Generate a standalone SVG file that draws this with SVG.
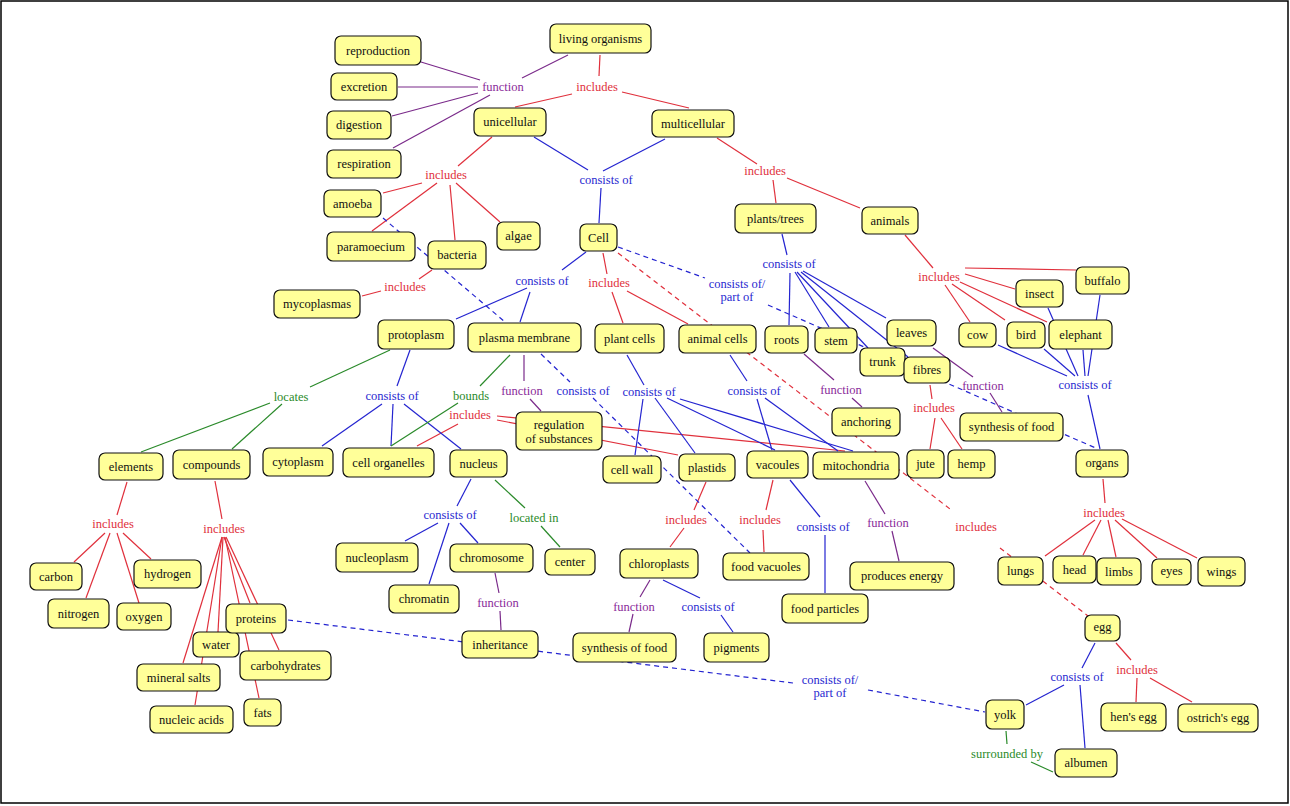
<svg xmlns="http://www.w3.org/2000/svg" width="1290" height="806" viewBox="0 0 1290 806">
<style>
.n rect{fill:#ffff99;stroke:#111;stroke-width:1.2}
.n text{font-family:"Liberation Serif","Times New Roman",serif;font-size:12.5px;fill:#111;text-anchor:middle}
.l{font-family:"Liberation Serif","Times New Roman",serif;font-size:12.5px;text-anchor:middle}
.pl{fill:#8a2a9a}.rl{fill:#e0303c}.bl{fill:#2828d0}.gl{fill:#2a8a2a}
.p line{stroke:#7a2a8a;stroke-width:1.2}
.r line{stroke:#e0303c;stroke-width:1.2}
.b line{stroke:#2424d0;stroke-width:1.2}
.g line{stroke:#2a8a2a;stroke-width:1.2}
.d line{stroke-dasharray:5,4}
</style>
<rect x="1" y="1" width="1287" height="802" fill="#fff" stroke="#000" stroke-width="1.5"/>
<g id="connectors">
<g class="p">
<line x1="568" y1="55" x2="522" y2="78"/>
<line x1="480" y1="80" x2="421" y2="62"/>
<line x1="478" y1="87" x2="398" y2="87"/>
<line x1="478" y1="93" x2="392" y2="116"/>
<line x1="490" y1="95" x2="393" y2="148"/>
<line x1="524" y1="355" x2="524" y2="381"/>
<line x1="530" y1="399" x2="541" y2="411"/>
<line x1="804" y1="354" x2="834" y2="380"/>
<line x1="852" y1="398" x2="862" y2="407"/>
<line x1="933" y1="348" x2="973" y2="377"/>
<line x1="990" y1="393" x2="1002" y2="412"/>
<line x1="495" y1="573" x2="499" y2="593"/>
<line x1="500" y1="611" x2="501" y2="630"/>
<line x1="865" y1="481" x2="885" y2="514"/>
<line x1="892" y1="531" x2="899" y2="561"/>
<line x1="650" y1="580" x2="640" y2="597"/>
<line x1="633" y1="614" x2="629" y2="632"/>
</g>
<g class="r">
<line x1="600" y1="55" x2="599" y2="76"/>
<line x1="572" y1="94" x2="515" y2="107"/>
<line x1="622" y1="92" x2="689" y2="108"/>
<line x1="492" y1="137" x2="458" y2="166"/>
<line x1="422" y1="183" x2="383" y2="193"/>
<line x1="437" y1="183" x2="372" y2="231"/>
<line x1="450" y1="185" x2="455" y2="240"/>
<line x1="456" y1="183" x2="500" y2="222"/>
<line x1="717" y1="138" x2="757" y2="164"/>
<line x1="773" y1="180" x2="776" y2="203"/>
<line x1="787" y1="178" x2="860" y2="208"/>
<line x1="432" y1="270" x2="419" y2="279"/>
<line x1="381" y1="291" x2="362" y2="296"/>
<line x1="603" y1="253" x2="607" y2="274"/>
<line x1="612" y1="292" x2="623" y2="323"/>
<line x1="627" y1="291" x2="688" y2="324"/>
<line x1="905" y1="235" x2="933" y2="268"/>
<line x1="965" y1="268" x2="1076" y2="270"/>
<line x1="965" y1="274" x2="1015" y2="289"/>
<line x1="945" y1="285" x2="970" y2="322"/>
<line x1="952" y1="284" x2="1005" y2="320"/>
<line x1="960" y1="282" x2="1047" y2="322"/>
<line x1="930" y1="385" x2="932" y2="399"/>
<line x1="935" y1="418" x2="930" y2="449"/>
<line x1="941" y1="418" x2="962" y2="449"/>
<line x1="417" y1="446" x2="458" y2="424"/>
<line x1="497" y1="416" x2="845" y2="451"/>
<line x1="497" y1="420" x2="678" y2="455"/>
<line x1="127" y1="482" x2="117" y2="515"/>
<line x1="105" y1="533" x2="74" y2="562"/>
<line x1="110" y1="533" x2="86" y2="598"/>
<line x1="117" y1="533" x2="139" y2="603"/>
<line x1="123" y1="533" x2="151" y2="559"/>
<line x1="215" y1="481" x2="222" y2="519"/>
<line x1="222" y1="537" x2="183" y2="663"/>
<line x1="222" y1="537" x2="195" y2="705"/>
<line x1="223" y1="537" x2="218" y2="632"/>
<line x1="224" y1="537" x2="250" y2="603"/>
<line x1="225" y1="537" x2="259" y2="698"/>
<line x1="226" y1="537" x2="279" y2="650"/>
<line x1="706" y1="482" x2="694" y2="510"/>
<line x1="684" y1="528" x2="670" y2="547"/>
<line x1="773" y1="480" x2="766" y2="510"/>
<line x1="763" y1="530" x2="764" y2="552"/>
<line x1="1103" y1="479" x2="1105" y2="503"/>
<line x1="1095" y1="520" x2="1045" y2="556"/>
<line x1="1101" y1="520" x2="1083" y2="555"/>
<line x1="1108" y1="520" x2="1116" y2="557"/>
<line x1="1115" y1="520" x2="1157" y2="558"/>
<line x1="1122" y1="519" x2="1197" y2="558"/>
<line x1="1116" y1="643" x2="1131" y2="660"/>
<line x1="1137" y1="678" x2="1136" y2="702"/>
<line x1="1150" y1="678" x2="1192" y2="702"/>
</g>
<g class="r d">
<line x1="618" y1="253" x2="950" y2="509"/>
<line x1="1000" y1="548" x2="1088" y2="616"/>
</g>
<g class="b">
<line x1="534" y1="137" x2="588" y2="170"/>
<line x1="665" y1="139" x2="603" y2="171"/>
<line x1="601" y1="188" x2="599" y2="223"/>
<line x1="586" y1="252" x2="562" y2="270"/>
<line x1="527" y1="288" x2="456" y2="319"/>
<line x1="530" y1="292" x2="520" y2="322"/>
<line x1="782" y1="234" x2="787" y2="255"/>
<line x1="790" y1="273" x2="789" y2="325"/>
<line x1="795" y1="272" x2="829" y2="327"/>
<line x1="797" y1="272" x2="868" y2="348"/>
<line x1="801" y1="272" x2="908" y2="357"/>
<line x1="803" y1="271" x2="886" y2="318"/>
<line x1="998" y1="345" x2="1067" y2="376"/>
<line x1="1044" y1="349" x2="1075" y2="376"/>
<line x1="1048" y1="308" x2="1078" y2="376"/>
<line x1="1083" y1="350" x2="1085" y2="376"/>
<line x1="1100" y1="295" x2="1088" y2="376"/>
<line x1="1088" y1="395" x2="1100" y2="449"/>
<line x1="410" y1="350" x2="397" y2="386"/>
<line x1="382" y1="404" x2="322" y2="446"/>
<line x1="393" y1="404" x2="391" y2="446"/>
<line x1="404" y1="404" x2="461" y2="449"/>
<line x1="627" y1="355" x2="644" y2="385"/>
<line x1="643" y1="399" x2="635" y2="455"/>
<line x1="655" y1="398" x2="695" y2="453"/>
<line x1="667" y1="398" x2="775" y2="450"/>
<line x1="680" y1="399" x2="853" y2="451"/>
<line x1="730" y1="355" x2="747" y2="381"/>
<line x1="757" y1="399" x2="772" y2="450"/>
<line x1="765" y1="398" x2="838" y2="451"/>
<line x1="471" y1="479" x2="457" y2="506"/>
<line x1="438" y1="523" x2="405" y2="541"/>
<line x1="449" y1="523" x2="429" y2="584"/>
<line x1="460" y1="523" x2="478" y2="543"/>
<line x1="790" y1="480" x2="820" y2="517"/>
<line x1="825" y1="535" x2="825" y2="593"/>
<line x1="663" y1="580" x2="700" y2="598"/>
<line x1="721" y1="615" x2="733" y2="632"/>
<line x1="1095" y1="643" x2="1082" y2="668"/>
<line x1="1064" y1="685" x2="1026" y2="705"/>
<line x1="1080" y1="685" x2="1085" y2="748"/>
</g>
<g class="b d">
<line x1="383" y1="218" x2="505" y2="322"/>
<line x1="618" y1="247" x2="705" y2="278"/>
<line x1="768" y1="305" x2="1098" y2="449"/>
<line x1="541" y1="354" x2="570" y2="382"/>
<line x1="593" y1="398" x2="750" y2="553"/>
<line x1="288" y1="620" x2="793" y2="683"/>
<line x1="868" y1="690" x2="985" y2="712"/>
</g>
<g class="g">
<line x1="390" y1="350" x2="310" y2="387"/>
<line x1="270" y1="403" x2="141" y2="452"/>
<line x1="282" y1="404" x2="232" y2="449"/>
<line x1="510" y1="355" x2="480" y2="386"/>
<line x1="458" y1="403" x2="391" y2="446"/>
<line x1="495" y1="480" x2="525" y2="508"/>
<line x1="541" y1="526" x2="560" y2="547"/>
<line x1="1006" y1="731" x2="1007" y2="744"/>
<line x1="1031" y1="762" x2="1053" y2="772"/>
</g>
</g>
<g id="linking-phrases">
<text class="l pl" x="503" y="91">function</text>
<text class="l rl" x="597" y="91">includes</text>
<text class="l rl" x="446" y="179">includes</text>
<text class="l bl" x="606" y="184">consists of</text>
<text class="l rl" x="765" y="175">includes</text>
<text class="l rl" x="405" y="291">includes</text>
<text class="l bl" x="542" y="285">consists of</text>
<text class="l rl" x="609" y="287">includes</text>
<text class="l bl" x="737" y="288">consists of/</text>
<text class="l bl" x="737" y="301">part of</text>
<text class="l bl" x="789" y="268">consists of</text>
<text class="l rl" x="939" y="281">includes</text>
<text class="l bl" x="1085" y="389">consists of</text>
<text class="l gl" x="291" y="401">locates</text>
<text class="l bl" x="392" y="400">consists of</text>
<text class="l gl" x="471" y="400">bounds</text>
<text class="l rl" x="470" y="419">includes</text>
<text class="l pl" x="522" y="395">function</text>
<text class="l bl" x="583" y="395">consists of</text>
<text class="l bl" x="649" y="396">consists of</text>
<text class="l bl" x="754" y="395">consists of</text>
<text class="l pl" x="841" y="394">function</text>
<text class="l rl" x="934" y="412">includes</text>
<text class="l pl" x="983" y="390">function</text>
<text class="l rl" x="113" y="528">includes</text>
<text class="l rl" x="224" y="533">includes</text>
<text class="l bl" x="450" y="519">consists of</text>
<text class="l gl" x="534" y="522">located in</text>
<text class="l rl" x="686" y="524">includes</text>
<text class="l rl" x="760" y="524">includes</text>
<text class="l bl" x="823" y="531">consists of</text>
<text class="l pl" x="888" y="527">function</text>
<text class="l rl" x="976" y="531">includes</text>
<text class="l rl" x="1104" y="517">includes</text>
<text class="l pl" x="498" y="607">function</text>
<text class="l pl" x="634" y="611">function</text>
<text class="l bl" x="708" y="611">consists of</text>
<text class="l rl" x="1137" y="674">includes</text>
<text class="l bl" x="1077" y="681">consists of</text>
<text class="l bl" x="830" y="684">consists of/</text>
<text class="l bl" x="830" y="697">part of</text>
<text class="l gl" x="1007" y="758">surrounded by</text>
</g>
<g id="nodes" class="n">
<g id="living-organisms"><rect x="550" y="24" width="101" height="29" rx="6"/><text x="600.5" y="42.5">living organisms</text></g>
<g id="reproduction"><rect x="335" y="36" width="86" height="29" rx="6"/><text x="378" y="54.5">reproduction</text></g>
<g id="excretion"><rect x="331" y="73" width="66" height="27" rx="6"/><text x="364" y="90.5">excretion</text></g>
<g id="digestion"><rect x="327" y="111" width="64" height="28" rx="6"/><text x="359" y="129">digestion</text></g>
<g id="respiration"><rect x="327" y="150" width="74" height="28" rx="6"/><text x="364" y="168">respiration</text></g>
<g id="unicellular"><rect x="474" y="108" width="72" height="28" rx="6"/><text x="510" y="126">unicellular</text></g>
<g id="multicellular"><rect x="652" y="110" width="82" height="27" rx="6"/><text x="693" y="127.5">multicellular</text></g>
<g id="amoeba"><rect x="324" y="190" width="57" height="27" rx="6"/><text x="352.5" y="207.5">amoeba</text></g>
<g id="paramoecium"><rect x="327" y="232" width="88" height="29" rx="6"/><text x="371" y="250.5">paramoecium</text></g>
<g id="bacteria"><rect x="428" y="241" width="58" height="28" rx="6"/><text x="457" y="259">bacteria</text></g>
<g id="algae"><rect x="497" y="222" width="43" height="28" rx="6"/><text x="518.5" y="240">algae</text></g>
<g id="cell"><rect x="580" y="224" width="37" height="27" rx="6"/><text x="598.5" y="241.5">Cell</text></g>
<g id="mycoplasmas"><rect x="274" y="290" width="86" height="28" rx="6"/><text x="317" y="308">mycoplasmas</text></g>
<g id="plants-trees"><rect x="735" y="204" width="81" height="29" rx="6"/><text x="775.5" y="222.5">plants/trees</text></g>
<g id="animals"><rect x="862" y="207" width="56" height="27" rx="6"/><text x="890" y="224.5">animals</text></g>
<g id="protoplasm"><rect x="378" y="320" width="76" height="29" rx="6"/><text x="416" y="338.5">protoplasm</text></g>
<g id="plasma-membrane"><rect x="468" y="323" width="113" height="29" rx="6"/><text x="524.5" y="341.5">plasma membrane</text></g>
<g id="plant-cells"><rect x="595" y="324" width="69" height="29" rx="6"/><text x="629.5" y="342.5">plant cells</text></g>
<g id="animal-cells"><rect x="679" y="325" width="77" height="28" rx="6"/><text x="717.5" y="343">animal cells</text></g>
<g id="roots"><rect x="765" y="326" width="43" height="27" rx="6"/><text x="786.5" y="343.5">roots</text></g>
<g id="stem"><rect x="815" y="328" width="42" height="25" rx="6"/><text x="836" y="344.5">stem</text></g>
<g id="leaves"><rect x="887" y="320" width="49" height="26" rx="6"/><text x="911.5" y="337">leaves</text></g>
<g id="trunk"><rect x="860" y="348" width="45" height="28" rx="6"/><text x="882.5" y="366">trunk</text></g>
<g id="fibres"><rect x="904" y="357" width="46" height="26" rx="6"/><text x="927" y="374">fibres</text></g>
<g id="cow"><rect x="959" y="323" width="37" height="24" rx="6"/><text x="977.5" y="339">cow</text></g>
<g id="bird"><rect x="1007" y="322" width="38" height="26" rx="6"/><text x="1026" y="339">bird</text></g>
<g id="insect"><rect x="1016" y="280" width="47" height="27" rx="6"/><text x="1039.5" y="297.5">insect</text></g>
<g id="buffalo"><rect x="1076" y="267" width="53" height="27" rx="6"/><text x="1102.5" y="284.5">buffalo</text></g>
<g id="elephant"><rect x="1049" y="320" width="63" height="29" rx="6"/><text x="1080.5" y="338.5">elephant</text></g>
<g id="cytoplasm"><rect x="263" y="448" width="70" height="28" rx="6"/><text x="298" y="466">cytoplasm</text></g>
<g id="cell-organelles"><rect x="343" y="448" width="91" height="29" rx="6"/><text x="388.5" y="466.5">cell organelles</text></g>
<g id="nucleus"><rect x="450" y="450" width="57" height="27" rx="6"/><text x="478.5" y="467.5">nucleus</text></g>
<g id="regulation-of-substances"><rect x="516" y="412" width="86" height="38" rx="6"/><text x="559" y="429">regulation</text><text x="559" y="443">of substances</text></g>
<g id="cell-wall"><rect x="603" y="456" width="58" height="27" rx="6"/><text x="632" y="473.5">cell wall</text></g>
<g id="plastids"><rect x="679" y="454" width="56" height="27" rx="6"/><text x="707" y="471.5">plastids</text></g>
<g id="vacoules"><rect x="747" y="451" width="61" height="27" rx="6"/><text x="777.5" y="468.5">vacoules</text></g>
<g id="mitochondria"><rect x="813" y="452" width="86" height="27" rx="6"/><text x="856" y="469.5">mitochondria</text></g>
<g id="anchoring"><rect x="832" y="408" width="68" height="28" rx="6"/><text x="866" y="426">anchoring</text></g>
<g id="jute"><rect x="907" y="450" width="37" height="28" rx="6"/><text x="925.5" y="468">jute</text></g>
<g id="hemp"><rect x="948" y="450" width="47" height="28" rx="6"/><text x="971.5" y="468">hemp</text></g>
<g id="synthesis-of-food-1"><rect x="960" y="413" width="103" height="28" rx="6"/><text x="1011.5" y="431">synthesis of food</text></g>
<g id="organs"><rect x="1076" y="450" width="52" height="27" rx="6"/><text x="1102" y="467">organs</text></g>
<g id="elements"><rect x="99" y="453" width="64" height="27" rx="6"/><text x="131" y="470.5">elements</text></g>
<g id="compounds"><rect x="173" y="450" width="77" height="29" rx="6"/><text x="211.5" y="468.5">compounds</text></g>
<g id="carbon"><rect x="30" y="563" width="52" height="27" rx="6"/><text x="56" y="580.5">carbon</text></g>
<g id="nitrogen"><rect x="48" y="599" width="61" height="29" rx="6"/><text x="78.5" y="617.5">nitrogen</text></g>
<g id="oxygen"><rect x="117" y="603" width="54" height="27" rx="6"/><text x="144" y="620.5">oxygen</text></g>
<g id="hydrogen"><rect x="134" y="560" width="67" height="28" rx="6"/><text x="167.5" y="578">hydrogen</text></g>
<g id="water"><rect x="193" y="632" width="46" height="25" rx="6"/><text x="216" y="648.5">water</text></g>
<g id="proteins"><rect x="226" y="604" width="60" height="29" rx="6"/><text x="256" y="622.5">proteins</text></g>
<g id="carbohydrates"><rect x="240" y="651" width="91" height="29" rx="6"/><text x="285.5" y="669.5">carbohydrates</text></g>
<g id="mineral-salts"><rect x="137" y="664" width="83" height="27" rx="6"/><text x="178.5" y="681.5">mineral salts</text></g>
<g id="nucleic-acids"><rect x="150" y="706" width="83" height="27" rx="6"/><text x="191.5" y="723.5">nucleic acids</text></g>
<g id="fats"><rect x="244" y="699" width="37" height="27" rx="6"/><text x="262.5" y="716.5">fats</text></g>
<g id="nucleoplasm"><rect x="336" y="543" width="82" height="29" rx="6"/><text x="377" y="561.5">nucleoplasm</text></g>
<g id="chromosome"><rect x="450" y="544" width="83" height="28" rx="6"/><text x="491.5" y="562">chromosome</text></g>
<g id="chromatin"><rect x="389" y="585" width="70" height="28" rx="6"/><text x="424" y="603">chromatin</text></g>
<g id="center"><rect x="545" y="549" width="50" height="26" rx="6"/><text x="570" y="566">center</text></g>
<g id="chloroplasts"><rect x="620" y="549" width="78" height="29" rx="6"/><text x="659" y="567.5">chloroplasts</text></g>
<g id="food-vacuoles"><rect x="723" y="553" width="86" height="27" rx="6"/><text x="766" y="570.5">food vacuoles</text></g>
<g id="food-particles"><rect x="782" y="594" width="86" height="29" rx="6"/><text x="825" y="612.5">food particles</text></g>
<g id="produces-energy"><rect x="850" y="562" width="104" height="28" rx="6"/><text x="902" y="580">produces energy</text></g>
<g id="inheritance"><rect x="462" y="631" width="76" height="27" rx="6"/><text x="500" y="648.5">inheritance</text></g>
<g id="synthesis-of-food-2"><rect x="573" y="633" width="103" height="29" rx="6"/><text x="624.5" y="651.5">synthesis of food</text></g>
<g id="pigments"><rect x="704" y="633" width="65" height="29" rx="6"/><text x="736.5" y="651.5">pigments</text></g>
<g id="lungs"><rect x="998" y="557" width="45" height="28" rx="6"/><text x="1020.5" y="575">lungs</text></g>
<g id="head"><rect x="1053" y="556" width="43" height="27" rx="6"/><text x="1074.5" y="573.5">head</text></g>
<g id="limbs"><rect x="1097" y="558" width="44" height="27" rx="6"/><text x="1119" y="575.5">limbs</text></g>
<g id="eyes"><rect x="1152" y="559" width="39" height="26" rx="6"/><text x="1171.5" y="575">eyes</text></g>
<g id="wings"><rect x="1198" y="557" width="47" height="29" rx="6"/><text x="1221.5" y="575.5">wings</text></g>
<g id="egg"><rect x="1085" y="615" width="35" height="26" rx="6"/><text x="1102.5" y="631">egg</text></g>
<g id="yolk"><rect x="986" y="700" width="38" height="29" rx="6"/><text x="1005" y="718.5">yolk</text></g>
<g id="albumen"><rect x="1055" y="749" width="62" height="28" rx="6"/><text x="1086" y="767">albumen</text></g>
<g id="hens-egg"><rect x="1101" y="703" width="65" height="28" rx="6"/><text x="1133.5" y="721">hen's egg</text></g>
<g id="ostrichs-egg"><rect x="1178" y="704" width="80" height="28" rx="6"/><text x="1218" y="722">ostrich's egg</text></g>
</g>
</svg>
